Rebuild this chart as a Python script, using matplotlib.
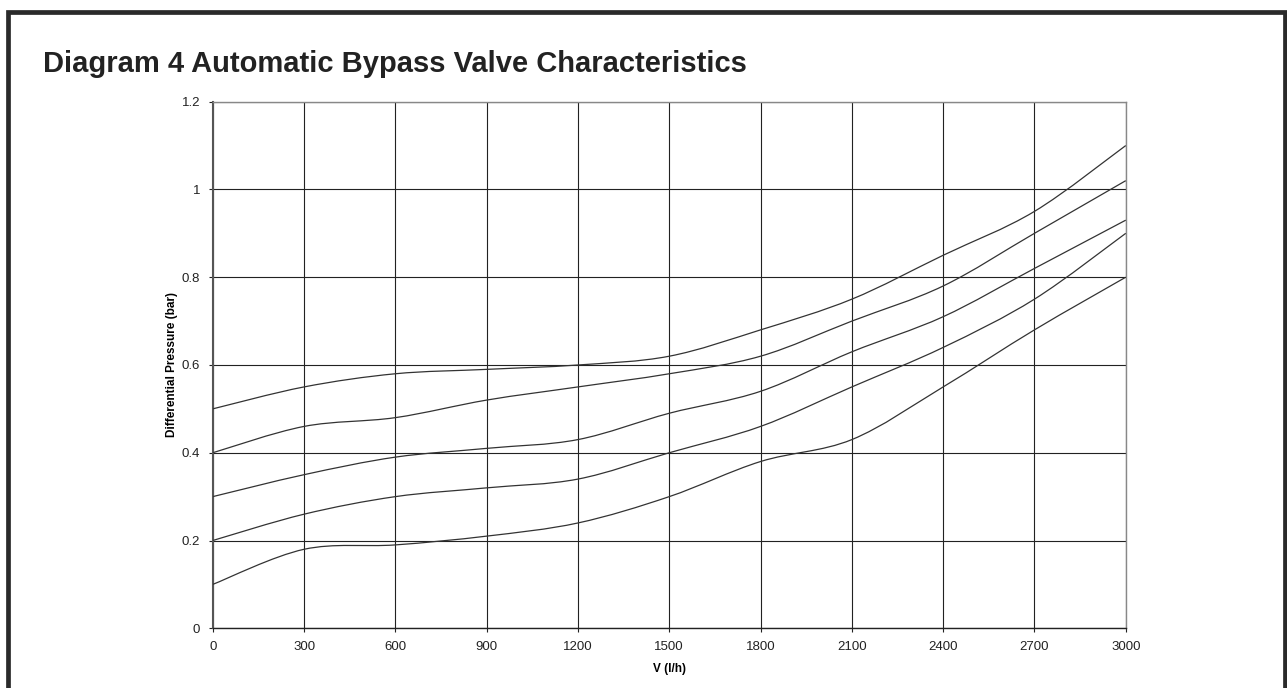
import numpy as np
import matplotlib
matplotlib.use("Agg")
import matplotlib.pyplot as plt
from matplotlib.path import Path
from matplotlib.patches import PathPatch, Rectangle

plt.rcParams['font.family'] = ['Liberation Sans', 'DejaVu Sans']

## data ##
flow = [0, 300, 600, 900, 1200, 1500, 1800, 2100, 2400, 2700, 3000]
curve_a = [0.50, 0.55, 0.58, 0.59, 0.60, 0.62, 0.68, 0.75, 0.85, 0.95, 1.10]
curve_b = [0.40, 0.46, 0.48, 0.52, 0.55, 0.58, 0.62, 0.70, 0.78, 0.90, 1.02]
curve_c = [0.30, 0.35, 0.39, 0.41, 0.43, 0.49, 0.54, 0.63, 0.71, 0.82, 0.93]
curve_d = [0.20, 0.26, 0.30, 0.32, 0.34, 0.40, 0.46, 0.55, 0.64, 0.75, 0.90]
curve_e = [0.10, 0.18, 0.19, 0.21, 0.24, 0.30, 0.38, 0.43, 0.55, 0.68, 0.80]
curves = [curve_a, curve_b, curve_c, curve_d, curve_e]

x_ticks = [0, 300, 600, 900, 1200, 1500, 1800, 2100, 2400, 2700, 3000]
y_ticks = [0, 0.2, 0.4, 0.6, 0.8, 1.0, 1.2]
y_labels = ["0", "0.2", "0.4", "0.6", "0.8", "1", "1.2"]

title = "Diagram 4 Automatic Bypass Valve Characteristics"


## smoothed line (excel-like bezier through the points) ##
def smooth_path(xs, ys):
    P = np.column_stack([xs, ys]).astype(float)
    n = len(P)
    verts = [P[0]]
    codes = [Path.MOVETO]
    for i in range(n - 1):
        p0 = P[i - 1] if i > 0 else P[i]
        p3 = P[i + 2] if i + 2 < n else P[i + 1]
        c1 = P[i] + (P[i + 1] - p0) / 6
        c2 = P[i + 1] - (p3 - P[i]) / 6
        verts += [c1, c2, P[i + 1]]
        codes += [Path.CURVE4] * 3
    return Path(verts, codes)


fig = plt.figure(figsize=(12.87, 6.88), dpi=100)
ax = fig.add_axes([0.1653, 0.0868, 0.8747 - 0.1653, 0.8522 - 0.0868])

for c in curves:
    ax.add_patch(PathPatch(smooth_path(flow, c), fill=False, edgecolor="#333333", lw=0.9, zorder=3))

ax.set_xlim(0, 3000)
ax.set_ylim(0, 1.2)
ax.set_xticks(x_ticks)
ax.set_yticks(y_ticks)
ax.set_yticklabels(y_labels)
ax.grid(True, color="#222222", lw=0.8)
ax.set_axisbelow(True)
ax.tick_params(direction="out", length=3, width=0.8, labelsize=9.5, color="#222222",
               labelcolor="#222222", pad=6)

for s in ["top", "right"]:
    ax.spines[s].set_color("#888888")
    ax.spines[s].set_linewidth(1.0)
ax.spines["left"].set_color("#555555")
ax.spines["left"].set_linewidth(1.5)
ax.spines["bottom"].set_color("#222222")
ax.spines["bottom"].set_linewidth(1.0)

ax.set_xlabel("V (l/h)", fontsize=8.5, fontweight="bold", labelpad=7)
ax.set_ylabel("Differential Pressure (bar)", fontsize=8.5, fontweight="bold", labelpad=3)

fig.text(43 / 1287, 1 - 72 / 688, title, fontsize=21, fontweight="bold", color="#222222",
         ha="left", va="baseline")

# outer frame, cut off at the bottom like the source
fig.patches.append(Rectangle((7.5 / 1287, -0.05), (1284.5 - 7.5) / 1287, 1 - 12 / 688 + 0.05,
                             transform=fig.transFigure, fill=False,
                             edgecolor="#2a2a2a", lw=3.4))

fig.savefig("out.png", dpi=100)
